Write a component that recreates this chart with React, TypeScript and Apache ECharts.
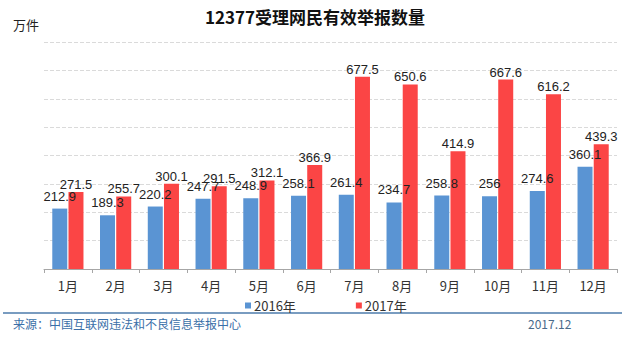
import React, { useEffect, useRef } from "react";
import * as echarts from "echarts";

const months = ["1月", "2月", "3月", "4月", "5月", "6月", "7月", "8月", "9月", "10月", "11月", "12月"];
const values2016 = [212.9, 189.3, 220.2, 247.7, 248.9, 258.1, 261.4, 234.7, 258.8, 256, 274.6, 360.1];
const values2017 = [271.5, 255.7, 300.1, 291.5, 312.1, 366.9, 677.5, 650.6, 414.9, 667.6, 616.2, 439.3];
const seriesNames = ["2016年", "2017年"];

const CJK = '"Noto Sans CJK SC", "Microsoft YaHei", sans-serif';
const NUM = '"Liberation Sans", Arial, sans-serif';

export default function App() {
  const ref = useRef<HTMLDivElement>(null);
  useEffect(() => {
    if (!ref.current) return;
    const chart = echarts.init(ref.current, null, { renderer: "svg" });
    chart.setOption({
      animation: false,
      backgroundColor: "#ffffff",
      title: {
        text: "12377受理网民有效举报数量",
        left: "center",
        top: 3,
        textStyle: { fontFamily: CJK, fontSize: 17, fontWeight: "bold", color: "#111" },
      },
      legend: {
        data: seriesNames,
        left: 240,
        top: 294,
        itemWidth: 6,
        itemHeight: 6,
        itemGap: 60,
        icon: "rect",
        textStyle: { fontFamily: CJK, fontSize: 13, color: "#333", padding: [0, 0, 0, -2] },
      },
      grid: { left: 44, right: 13, top: 42, bottom: 77 },
      xAxis: {
        type: "category",
        data: months,
        axisLine: { lineStyle: { color: "#a6a6a6", width: 1 } },
        axisTick: { show: true, length: 4, lineStyle: { color: "#a6a6a6" } },
        axisLabel: { fontFamily: CJK, fontSize: 13, color: "#333", margin: 10 },
      },
      yAxis: {
        type: "value",
        min: 0,
        max: 800,
        interval: 100,
        axisLabel: { show: false },
        axisLine: { show: false },
        axisTick: { show: false },
        splitLine: { lineStyle: { color: "#dadada", type: "dashed", width: 1 } },
      },
      series: [
        {
          name: seriesNames[0],
          type: "bar",
          data: values2016,
          barWidth: 15,
          barGap: "8%",
          itemStyle: { color: "#5a94d3" },
          label: {
            show: true,
            position: "top",
            distance: 6,
            fontFamily: NUM,
            fontSize: 13,
            color: "#222",
          },
        },
        {
          name: seriesNames[1],
          type: "bar",
          data: values2017,
          barWidth: 15,
          barGap: "8%",
          itemStyle: { color: "#fb4545" },
          label: {
            show: true,
            position: "top",
            distance: 1,
            fontFamily: NUM,
            fontSize: 13,
            color: "#222",
          },
        },
      ],
      graphic: [
        {
          type: "text",
          left: 13,
          top: 18,
          style: { text: "万件", font: `13px ${CJK}`, fill: "#222" },
        },
        {
          type: "line",
          shape: { x1: 3, y1: 313, x2: 622, y2: 313 },
          style: { stroke: "#4d7bab", lineWidth: 1.5 },
        },
        {
          type: "text",
          left: 13,
          top: 317,
          style: { text: "来源：中国互联网违法和不良信息举报中心", font: `12px ${CJK}`, fill: "#3a6fa8" },
        },
        {
          type: "text",
          left: 528,
          top: 317,
          style: { text: "2017.12", font: `12px ${CJK}`, fill: "#4a6a8a" },
        },
      ],
    });
    return () => chart.dispose();
  }, []);
  return <div ref={ref} style={{ width: 630, height: 346, position: "absolute", left: 0, top: 0 }} />;
}
